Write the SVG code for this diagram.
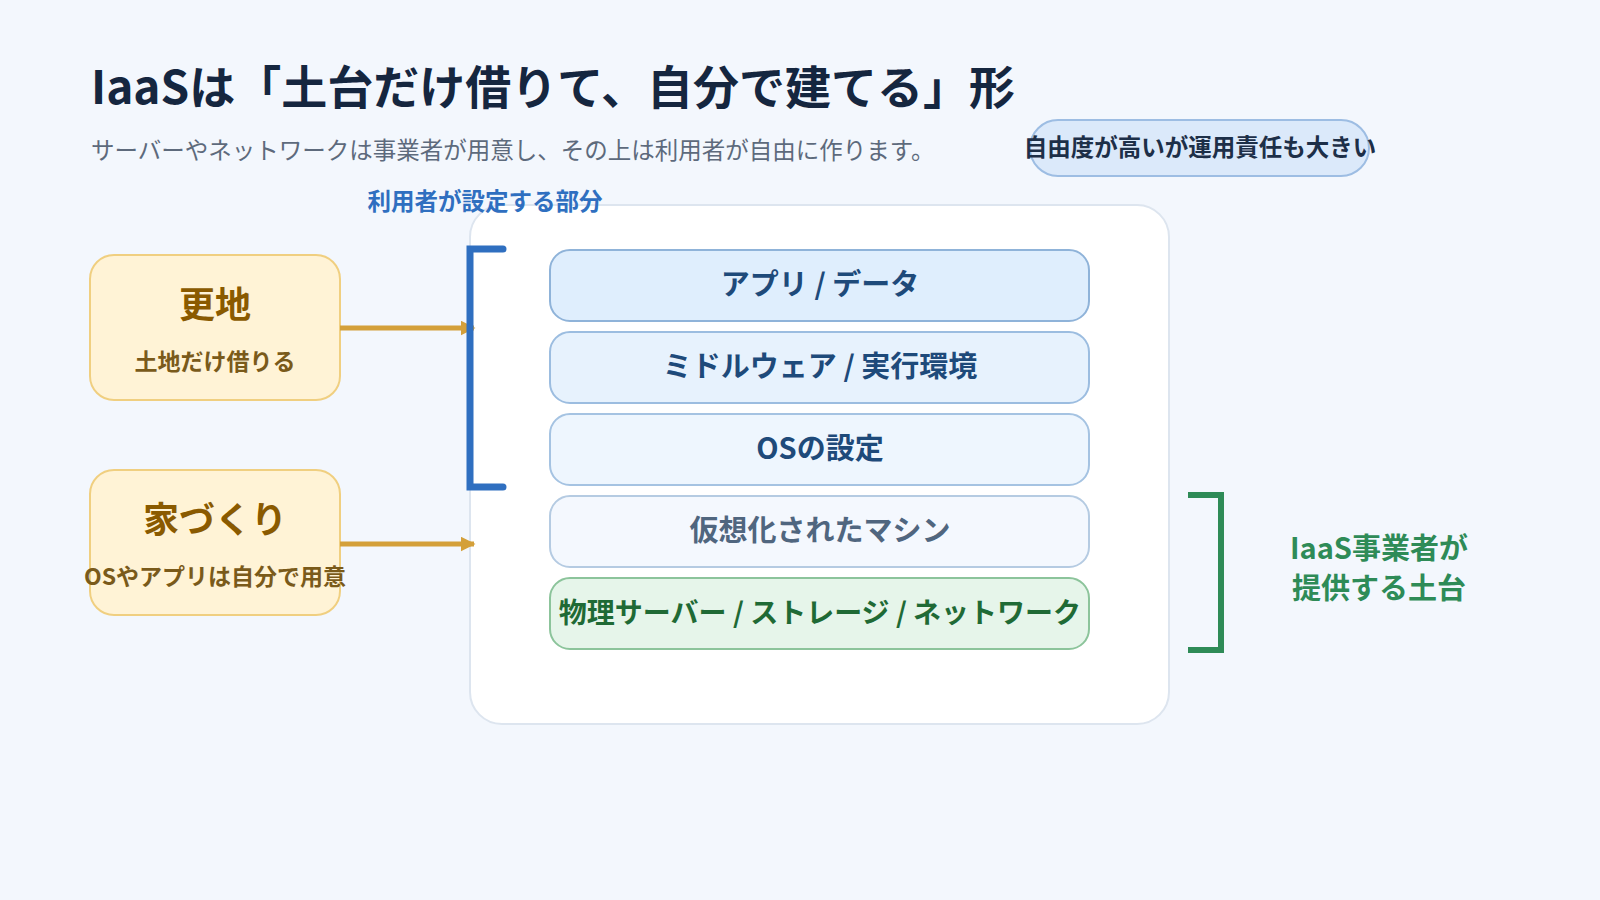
<svg xmlns="http://www.w3.org/2000/svg" width="1600" height="900" viewBox="0 0 1600 900">
<defs>
<style>
text{font-family:"Noto Sans CJK JP","Noto Sans",sans-serif;}
.layer{stroke-width:2}
.lt{font-size:29px;font-weight:bold;text-anchor:middle}
.lb{fill:#fff3d6;stroke:#f0cf80;stroke-width:2}
.lbt{font-size:36px;font-weight:bold;fill:#8a5a00;text-anchor:middle}
.lbs{font-size:23px;font-weight:bold;fill:#7a5a1a;text-anchor:middle}
.con{stroke:#d4a03a;stroke-width:5;fill:none}
</style>
<marker id="ah" viewBox="0 0 10 10" refX="9" refY="5" markerWidth="3" markerHeight="3" orient="auto"><path d="M0,0L10,5L0,10z" fill="#d4a03a"/></marker>
</defs>
<rect width="1600" height="900" fill="#f3f7fd"/>
<text x="91" y="104" font-size="46" font-weight="bold" fill="#15263f">IaaSは「土台だけ借りて、自分で建てる」形</text>
<text x="91" y="159" font-size="23.5" fill="#5d6a7c">サーバーやネットワークは事業者が用意し、その上は利用者が自由に作ります。</text>
<g id="pill"><rect x="1030" y="120" width="339" height="56" rx="28" fill="#dbe9fa" stroke="#9dbde3" stroke-width="2"/>
<text x="1200" y="156" font-size="23.5" font-weight="bold" fill="#1d2f48" text-anchor="middle">自由度が高いが運用責任も大きい</text></g>
<g id="panel"><rect x="470" y="205" width="699" height="519" rx="32" fill="#ffffff" stroke="#dde5ef" stroke-width="2"/></g>
<text x="485" y="210" font-size="23.5" font-weight="bold" fill="#2f6fc0" text-anchor="middle">利用者が設定する部分</text>
<g id="app"><rect class="layer" x="550" y="250" width="539" height="71" rx="20" fill="#dfeefd" stroke="#8fb3d9"/><text class="lt" x="820" y="295" fill="#1e4a7a">アプリ / データ</text></g>
<g id="mw"><rect class="layer" x="550" y="332" width="539" height="71" rx="20" fill="#e7f2fd" stroke="#9cbde0"/><text class="lt" x="820" y="377" fill="#1e4a7a">ミドルウェア / 実行環境</text></g>
<g id="os"><rect class="layer" x="550" y="414" width="539" height="71" rx="20" fill="#eef6fe" stroke="#a5c3e2"/><text class="lt" x="820" y="459" fill="#1e4a7a">OSの設定</text></g>
<g id="vm"><rect class="layer" x="550" y="496" width="539" height="71" rx="20" fill="#f4f8fe" stroke="#b5cbe2"/><text class="lt" x="820" y="541" fill="#50667f">仮想化されたマシン</text></g>
<g id="phys"><rect class="layer" x="550" y="578" width="539" height="71" rx="20" fill="#e6f5ea" stroke="#8cc49b"/><text class="lt" x="820" y="623" fill="#1f6a35" style="font-size:28px">物理サーバー / ストレージ / ネットワーク</text></g>
<g id="sarachi"><rect class="lb" x="90" y="255" width="250" height="145" rx="24"/><text class="lbt" x="215" y="318">更地</text><text class="lbs" x="215" y="370">土地だけ借りる</text></g>
<g id="ie"><rect class="lb" x="90" y="470" width="250" height="145" rx="24"/><text class="lbt" x="215" y="533">家づくり</text><text class="lbs" x="215" y="585">OSやアプリは自分で用意</text></g>
<g id="connectors">
<line class="con" x1="340" y1="328" x2="474" y2="328" marker-end="url(#ah)"/>
<line class="con" x1="340" y1="544" x2="474" y2="544" marker-end="url(#ah)"/>
</g>
<g id="userbracket"><path d="M503,249H470V487H503" fill="none" stroke="#2f6fc0" stroke-width="7" stroke-linecap="round"/></g>
<g id="provbracket"><path d="M1188,495H1221V650H1188" fill="none" stroke="#2e8b57" stroke-width="6"/>
<text x="1379" y="559" font-size="29" font-weight="bold" fill="#2e8b57" text-anchor="middle">IaaS事業者が</text>
<text x="1379" y="599" font-size="29" font-weight="bold" fill="#2e8b57" text-anchor="middle">提供する土台</text></g>
</svg>
